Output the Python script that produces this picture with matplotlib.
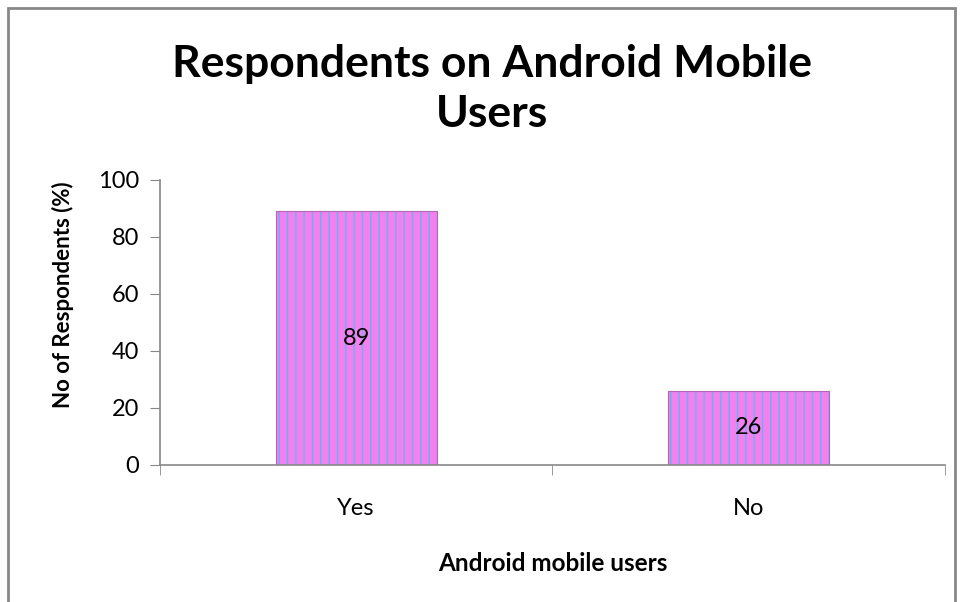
import matplotlib.pyplot as plt
from matplotlib.patches import Rectangle

plt.rcParams['font.family'] = ['Lato', 'DejaVu Sans']
plt.rcParams['hatch.linewidth'] = 1.0

categories = ['Yes', 'No']
values = [89, 26]

fig = plt.figure(figsize=(9.64, 6.02), dpi=100)
ax = fig.add_axes([0.166, 0.2276, 0.814, 0.4734])

# pink bars with a fine blue vertical pattern
ax.bar(range(len(categories)), values, width=0.41, color='#F47FEE',
       edgecolor='#5FB6F2', hatch='||', linewidth=0)
for i, v in enumerate(values):
    ax.bar(i, v, width=0.41, fill=False, edgecolor='#B565B5', linewidth=0.8)
    ax.text(i, v / 2, str(v), ha='center', va='center', fontsize=17)

ax.set_xlim(-0.5, 1.5)
ax.set_ylim(0, 100)
ax.set_yticks(range(0, 101, 20))
ax.set_xticks(range(len(categories)))
ax.set_xticklabels(categories)
ax.set_xticks([-0.5, 0.5, 1.5], minor=True)
ax.tick_params(axis='x', which='major', length=0, pad=24, labelsize=17)
ax.tick_params(axis='x', which='minor', length=7, color='#888888', direction='out')
ax.tick_params(axis='y', length=7, color='#888888', labelsize=17, pad=8)

for s in ['top', 'right']:
    ax.spines[s].set_visible(False)
for s in ['left', 'bottom']:
    ax.spines[s].set_color('#888888')
    ax.spines[s].set_linewidth(1.2)

ax.set_ylabel('No of Respondents (%)', fontsize=16, fontweight='bold')
ax.yaxis.set_label_coords(-0.110, 0.596)
ax.set_xlabel('Android mobile users', fontsize=17.5, fontweight='bold')
ax.xaxis.set_label_coords(0.5, -0.305)

fig.text(0.5104, 0.852, 'Respondents on Android Mobile\nUsers', ha='center', va='center',
         fontsize=32, fontweight='bold', linespacing=1.3)

# chart frame
fig.patches.append(Rectangle((8 / 964, -0.05), 947 / 964, 1 - 8 / 602 + 0.05,
                             transform=fig.transFigure, fill=False,
                             edgecolor='#888888', linewidth=2))

fig.savefig('out.png', dpi=100)
